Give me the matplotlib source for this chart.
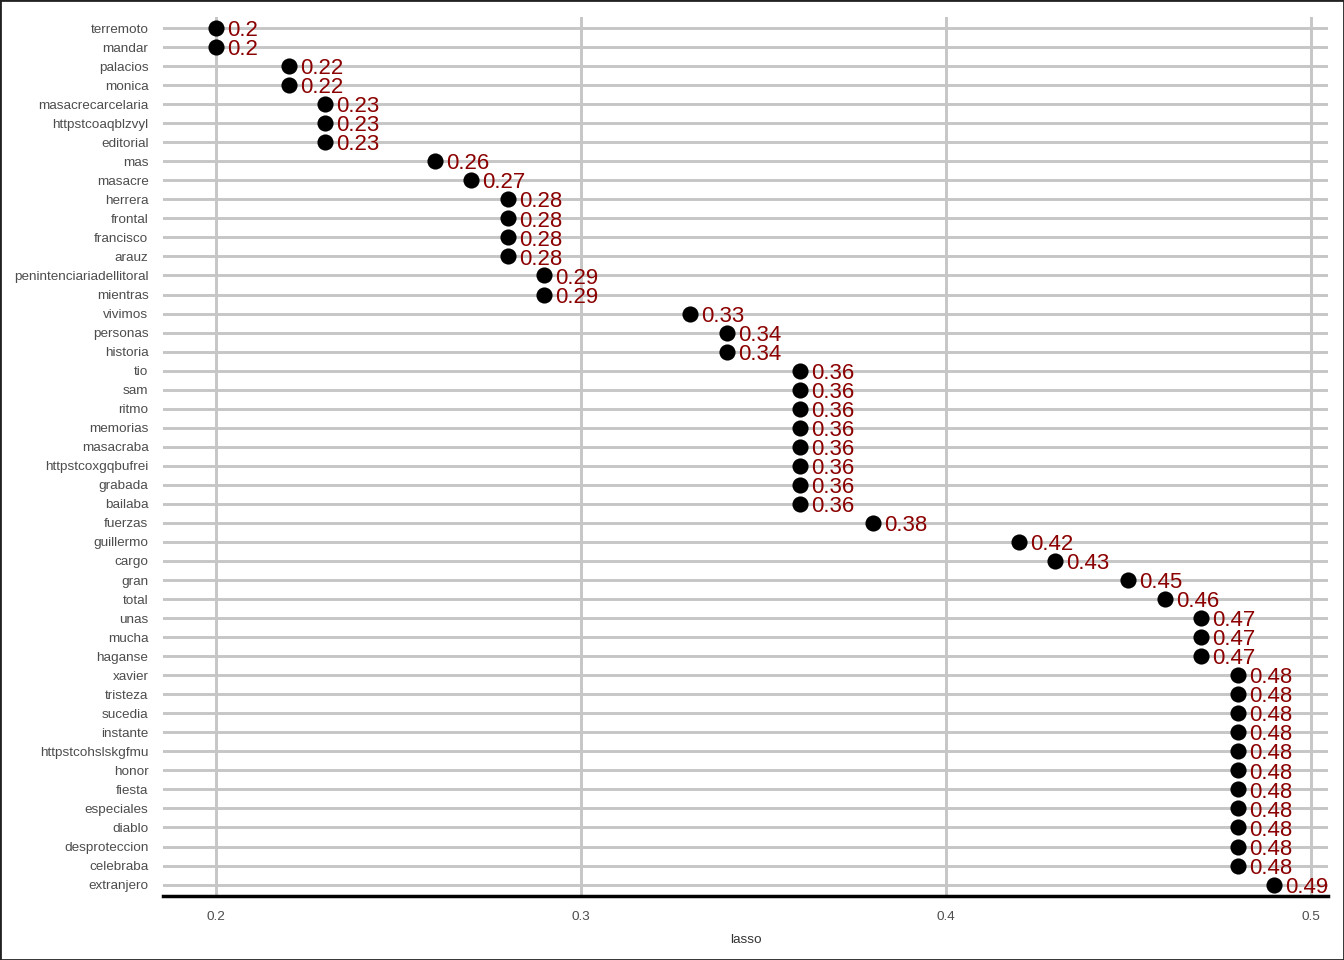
import matplotlib
matplotlib.use("Agg")
import matplotlib.pyplot as plt
from matplotlib.patches import Rectangle

words = ["terremoto", "mandar", "palacios", "monica", "masacrecarcelaria",
         "httpstcoaqblzvyl", "editorial", "mas", "masacre", "herrera", "frontal",
         "francisco", "arauz", "penintenciariadellitoral", "mientras", "vivimos",
         "personas", "historia", "tio", "sam", "ritmo", "memorias", "masacraba",
         "httpstcoxgqbufrei", "grabada", "bailaba", "fuerzas", "guillermo", "cargo",
         "gran", "total", "unas", "mucha", "haganse", "xavier", "tristeza", "sucedia",
         "instante", "httpstcohslskgfmu", "honor", "fiesta", "especiales", "diablo",
         "desproteccion", "celebraba", "extranjero"]
lasso = [0.2, 0.2, 0.22, 0.22, 0.23, 0.23, 0.23, 0.26, 0.27, 0.28, 0.28, 0.28, 0.28,
         0.29, 0.29, 0.33, 0.34, 0.34, 0.36, 0.36, 0.36, 0.36, 0.36, 0.36, 0.36, 0.36,
         0.38, 0.42, 0.43, 0.45, 0.46, 0.47, 0.47, 0.47, 0.48, 0.48, 0.48, 0.48, 0.48,
         0.48, 0.48, 0.48, 0.48, 0.48, 0.48, 0.49]
xticks = [0.2, 0.3, 0.4, 0.5]
xticklabels = ["0.2", "0.3", "0.4", "0.5"]

plt.rcParams['font.family'] = ['Liberation Sans', 'DejaVu Sans']

fig = plt.figure(figsize=(13.44, 9.6), dpi=100)
ax = fig.add_axes([163/1344, 1-896/960, (1328-163)/1344, (896-16.6)/960])

n = len(words)
ypos = list(range(n))[::-1]

for sp in ax.spines.values():
    sp.set_visible(False)
ax.spines['bottom'].set_visible(True)
ax.spines['bottom'].set_linewidth(2.5)
ax.spines['bottom'].set_color('black')

ax.set_axisbelow(True)
ax.grid(True, axis='both', color='#c6c6c6', linewidth=2.1)

ax.scatter(lasso, ypos, s=135, color='black', zorder=3, linewidths=0)
for v, y in zip(lasso, ypos):
    t = ax.annotate(f"{v:g}", (v, y), xytext=(7.8, -1.9), textcoords='offset points',
                    color='#8b0000', fontsize=16, va='center', ha='left',
                    annotation_clip=False, zorder=4)
    t.set_clip_on(True)

xmin, xmax = min(lasso), max(lasso)
rng = xmax - xmin
ax.set_xlim(xmin - 0.05*rng, 0.5 + 17/3650)
ax.set_ylim(-0.6, n - 1 + 0.6)
ax.set_yticks(ypos)
ax.set_yticklabels(words)
ax.set_xticks(xticks)
ax.set_xticklabels(xticklabels)
ax.tick_params(axis='y', length=0, pad=10.5, labelsize=9.7, labelcolor='#4d4d4d')
ax.tick_params(axis='x', length=0, pad=11, labelsize=9.7, labelcolor='#4d4d4d')
ax.set_xlabel("lasso", fontsize=9.7, color='#333333', labelpad=8)

fig.patches.append(Rectangle((0, 0), 1, 1, transform=fig.transFigure, fill=False,
                             edgecolor='#222222', linewidth=2))

fig.savefig("out.png", dpi=100)
